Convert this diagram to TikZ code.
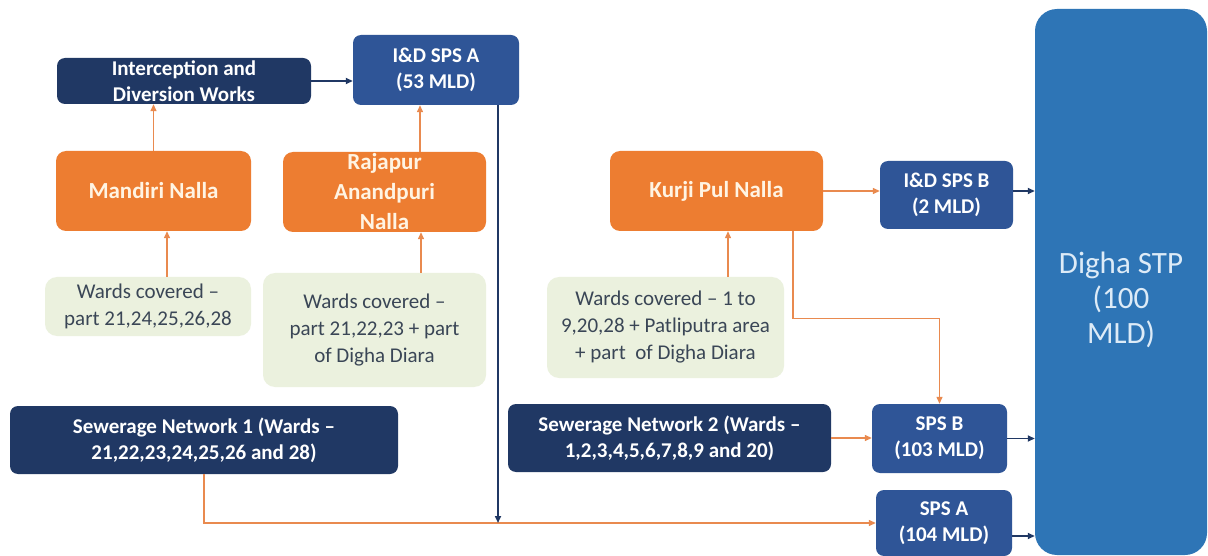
\documentclass[tikz,border=0pt]{standalone}
\usepackage{fontspec}
\setmainfont{Carlito}
\usetikzlibrary{arrows.meta}
\definecolor{navy}{HTML}{203864}
\definecolor{medblue}{HTML}{2F5597}
\definecolor{stpblue}{HTML}{2E75B6}
\definecolor{stptext}{HTML}{DDEBF7}
\definecolor{nalla}{HTML}{ED7D31}
\definecolor{cream}{HTML}{FFF4E3}
\definecolor{wardfill}{HTML}{EBF1DE}
\definecolor{wardtext}{HTML}{3A4656}
\definecolor{oline}{HTML}{E98A4F}
\tikzset{
  navybox/.style={fill=navy, text=white, font=\bfseries\fontsize{21}{26}\selectfont, rounded corners=8pt, align=center, inner sep=0pt},
  bluebox/.style={fill=medblue, text=white, font=\bfseries\fontsize{21}{26}\selectfont, rounded corners=8pt, align=center, inner sep=0pt},
  nallabox/.style={fill=nalla, text=cream, font=\bfseries\fontsize{23}{30}\selectfont, rounded corners=10pt, align=center, inner sep=0pt},
  wardbox/.style={fill=wardfill, text=wardtext, font=\fontsize{21}{27}\selectfont, rounded corners=12pt, align=center, inner sep=0pt},
  stpbox/.style={fill=stpblue, rounded corners=22pt, inner sep=0pt},
  stplabel/.style={text=stptext, font=\fontsize{31}{35}\selectfont, align=center, inner sep=0pt},
  oconn/.style={draw=oline, line width=1.3pt},
  oarrow/.style={oconn, -{Triangle[length=7pt,width=6pt]}},
  darrow/.style={draw=navy, line width=1.6pt, -{Triangle[length=7pt,width=6pt]}},
}
\begin{document}
\begin{tikzpicture}[x=1pt,y=-1pt]
\useasboundingbox[fill=white] (0,0) rectangle (1208,556);
% nodes
\node[navybox, minimum width=254pt, minimum height=46pt] (inter) at (184,81) {Interception and\\Diversion Works};
\node[bluebox, minimum width=166pt, minimum height=70pt] (idspsa) at (436,70) {I\&D SPS A\\(53 MLD)};
\node[nallabox, minimum width=195pt, minimum height=80pt] (mandiri) at (153.5,191) {Mandiri Nalla};
\node[nallabox, minimum width=203pt, minimum height=80pt] (rajapur) at (384.5,192) {Rajapur\\Anandpuri\\Nalla};
\node[nallabox, minimum width=213pt, minimum height=80pt] (kurji) at (716.5,191) {Kurji Pul Nalla};
\node[bluebox, minimum width=133pt, minimum height=68pt] (idspsb) at (946.5,195) {I\&D SPS B\\(2 MLD)};
\node[stpbox, minimum width=172pt, minimum height=546pt] (digha) at (1121,282) {};
\node[stplabel] (dighatext) at (1121,300) {Digha STP\\(100\\MLD)};
\node[wardbox, minimum width=206pt, minimum height=59pt] (w1) at (148,306.5) {Wards covered –\\part 21,24,25,26,28};
\node[wardbox, minimum width=223pt, minimum height=114pt] (w2) at (374.5,330) {Wards covered –\\part 21,22,23 + part\\of Digha Diara};
\node[wardbox, minimum width=237pt, minimum height=101pt] (w3) at (665.5,327.5) {Wards covered – 1 to\\9,20,28 + Patliputra area\\+ part~ of Digha Diara};
\node[navybox, minimum width=388pt, minimum height=68pt] (sn1) at (204,440) {Sewerage Network 1 (Wards –\\21,22,23,24,25,26 and 28)};
\node[navybox, minimum width=323pt, minimum height=68pt] (sn2) at (669.5,438) {Sewerage Network 2 (Wards –\\1,2,3,4,5,6,7,8,9 and 20)};
\node[bluebox, minimum width=135pt, minimum height=69pt] (spsb) at (939.5,438.5) {SPS B\\(103 MLD)};
\node[bluebox, minimum width=136pt, minimum height=66pt] (spsa) at (944,523) {SPS A\\(104 MLD)};
% connectors
\draw[darrow] (inter.east) -- (inter.east -| idspsa.west);
\draw[oarrow] (mandiri.north) -- (inter.south -| mandiri.north);
\draw[oarrow] ([xshift=19pt]w1.north) -- ([xshift=19pt]w1.north |- mandiri.south);
\draw[oarrow] ([xshift=35.5pt]rajapur.north) -- ([xshift=35.5pt]rajapur.north |- idspsa.south);
\draw[oarrow] ([xshift=46.5pt]w2.north) -- ([xshift=46.5pt]w2.north |- rajapur.south);
\draw[oarrow] ([xshift=62.5pt]w3.north) -- ([xshift=62.5pt]w3.north |- kurji.south);
\draw[oarrow] (kurji.east) -- (kurji.east -| idspsb.west);
\draw[darrow] (idspsb.east |- kurji.east) -- (kurji.east -| digha.west);
\draw[oarrow] ([xshift=76.5pt]kurji.south) -- ++(0,87) -| (spsb.north);
\draw[oarrow] (sn2.east) -- (sn2.east -| spsb.west);
\draw[darrow] (spsb.east) -- (spsb.east -| digha.west);
\draw[oarrow] (sn1.south) |- (spsa.west);
\draw[darrow] ([xshift=62pt]idspsa.south) -- ([xshift=62pt]idspsa.south |- spsa.west);
\draw[darrow] ([yshift=-13pt]spsa.east) -- ([yshift=-13pt]spsa.east -| digha.west);
\end{tikzpicture}
\end{document}
